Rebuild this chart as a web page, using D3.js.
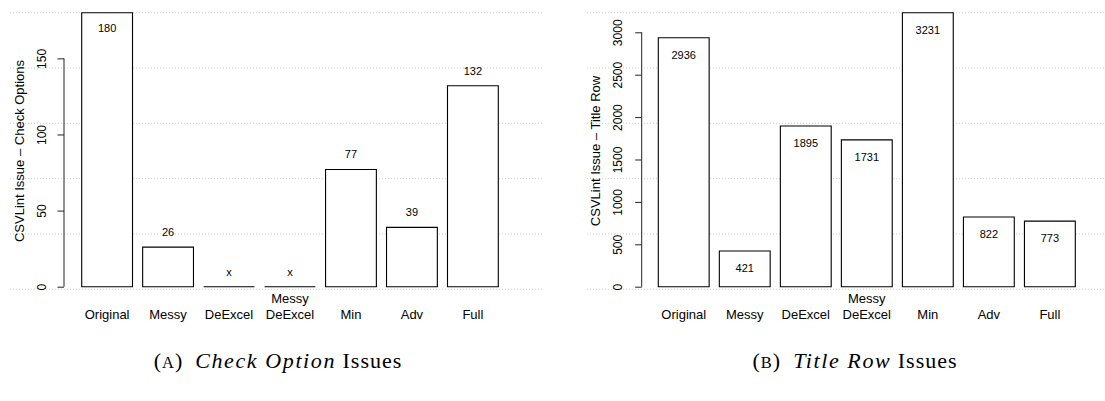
<!DOCTYPE html>
<html>
<head>
<meta charset="utf-8">
<script src="https://cdn.jsdelivr.net/npm/d3@7"></script>
<style>
  html, body { margin: 0; padding: 0; background: #fff; }
  svg { display: block; }
  text { font-family: "Liberation Sans", Arial, Helvetica, sans-serif; fill: #000; }
  .caption { font-family: "Liberation Serif", "Times New Roman", serif; }
</style>
</head>
<body>
<svg id="chart" width="1105" height="401"></svg>
<script>
// ---------- data ----------
const categories = ["Original", "Messy", "DeExcel", "Messy\nDeExcel", "Min", "Adv", "Full"];
const checkOptionValues = [180, 26, 0, 0, 77, 39, 132];
const titleRowValues = [2936, 421, 1895, 1731, 3231, 822, 773];
const checkOptionTicks = [0, 50, 100, 150];
const titleRowTicks = [0, 500, 1000, 1500, 2000, 2500, 3000];
const checkOptionTitle = "CSVLint Issue \u2013 Check Options";
const titleRowTitle = "CSVLint Issue \u2013 Title Row";
const captionA = { letter: "A", italic: "Check Option", rest: " Issues" };
const captionB = { letter: "B", italic: "Title Row", rest: " Issues" };

// ---------- layout ----------
const svg = d3.select("#chart");
const plotTop = 12.7, zeroY = 286.7, gridBottom = 289.3, gridCount = 5;

function drawPanel(cfg) {
  const g = svg.append("g");
  const max = d3.max(cfg.values);
  const y = d3.scaleLinear().domain([0, max]).range([zeroY, plotTop]);
  const x = d3.scaleBand().domain(d3.range(categories.length))
    .range([cfg.barLeft, cfg.barRight]).paddingInner(1 / 6).paddingOuter(0);

  // dotted grid
  const gridYs = d3.range(gridCount + 1).map(i => plotTop + i * (gridBottom - plotTop) / gridCount);
  g.selectAll("line.grid").data(gridYs).join("line")
    .attr("class", "grid")
    .attr("x1", cfg.gridLeft).attr("x2", cfg.gridRight)
    .attr("y1", d => d).attr("y2", d => d)
    .attr("stroke", "#cfcfcf").attr("stroke-width", 1)
    .attr("stroke-dasharray", "1,2");

  // bars
  g.selectAll("path.bar").data(cfg.values).join("path")
    .attr("class", "bar")
    .attr("d", (d, i) => {
      const x0 = x(i), x1 = x(i) + x.bandwidth();
      return `M${x0},${y(0)}V${y(d)}H${x1}V${y(0)}Z`;
    })
    .attr("fill", "#fff").attr("stroke", "#000").attr("stroke-width", 1.1);

  // value labels
  g.selectAll("text.val").data(cfg.values).join("text")
    .attr("class", "val")
    .attr("x", (d, i) => x(i) + x.bandwidth() / 2)
    .attr("y", d => cfg.inside(d, max) ? y(d) + cfg.insideOffset : y(d) - 11)
    .attr("text-anchor", "middle")
    .style("font-size", "11px")
    .text(d => d === 0 ? "x" : d);

  // y axis
  const axis = d3.axisLeft(y).tickValues(cfg.ticks).tickSize(6.5).tickSizeOuter(0).tickFormat(d3.format("d"));
  const ax = g.append("g").attr("transform", `translate(${cfg.axisX},0)`).call(axis);
  ax.select(".domain").attr("stroke", "#222").attr("stroke-width", 1)
    .attr("d", `M0,${y(cfg.ticks[0])}V${y(cfg.ticks[cfg.ticks.length - 1])}`);
  ax.selectAll(".tick line").attr("stroke", "#222");
  ax.selectAll(".tick text")
    .attr("x", null).attr("dy", null)
    .attr("transform", d => `translate(${-cfg.labelOffset},0) rotate(-90)`)
    .attr("text-anchor", "middle")
    .style("font-size", "12px")
    .style("font-family", "'Liberation Sans', Arial, sans-serif")
    .attr("fill", "#000");

  // y title
  g.append("text")
    .attr("transform", `translate(${cfg.axisX - cfg.titleOffset},${(plotTop + gridBottom) / 2}) rotate(-90)`)
    .attr("text-anchor", "middle")
    .style("font-size", "13px")
    .text(cfg.title);

  // category labels
  categories.forEach((c, i) => {
    const lines = c.split("\n");
    const t = g.append("text")
      .attr("text-anchor", "middle")
      .style("font-size", "13px");
    lines.forEach((ln, k) => {
      t.append("tspan")
        .attr("x", x(i) + x.bandwidth() / 2)
        .attr("y", 318.5 - (lines.length - 1 - k) * 16)
        .text(ln);
    });
  });

  // caption
  const cap = g.append("text").attr("class", "caption")
    .attr("x", cfg.captionX).attr("y", 368)
    .attr("text-anchor", "middle")
    .style("font-size", "22px")
    .style("letter-spacing", "1px");
  cap.append("tspan").text("(");
  cap.append("tspan").style("font-size", "16.5px").text(cfg.caption.letter);
  cap.append("tspan").text(")\u2002");
  cap.append("tspan").style("font-style", "italic").style("letter-spacing", "1.6px").text(cfg.caption.italic);
  cap.append("tspan").text(cfg.caption.rest);
}

drawPanel({
  values: checkOptionValues, ticks: checkOptionTicks, title: checkOptionTitle,
  barLeft: 81.7, barRight: 498.3, gridLeft: 10, gridRight: 542,
  axisX: 64, labelOffset: 18.3, titleOffset: 40.5,
  inside: (d, m) => d === m, insideOffset: 19,
  caption: captionA, captionX: 278
});
drawPanel({
  values: titleRowValues, ticks: titleRowTicks, title: titleRowTitle,
  barLeft: 658.3, barRight: 1075.3, gridLeft: 587, gridRight: 1105,
  axisX: 641.7, labelOffset: 19.4, titleOffset: 42.2,
  inside: () => true, insideOffset: 21,
  caption: captionB, captionX: 855
});
</script>
</body>
</html>
